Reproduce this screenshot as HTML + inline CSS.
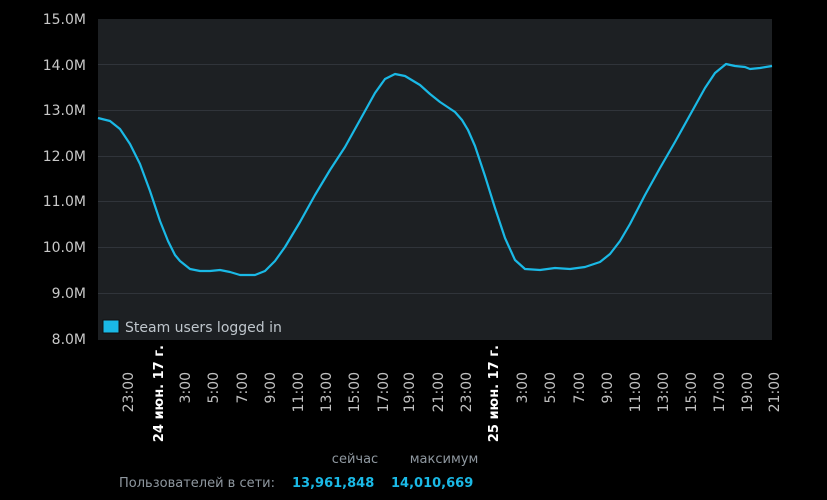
<!DOCTYPE html>
<html><head><meta charset="utf-8"><style>
body{margin:0;background:#000;width:827px;height:500px;overflow:hidden;font-family:"DejaVu Sans",sans-serif}
svg{position:absolute;left:0;top:0}
</style></head><body>
<svg width="827" height="500" xmlns="http://www.w3.org/2000/svg" font-family="DejaVu Sans, sans-serif">
<rect x="98" y="19" width="674" height="321" fill="#1d2023"/>
<g stroke="#30343a" stroke-width="1">
<line x1="98" x2="772" y1="64.5" y2="64.5"/><line x1="98" x2="772" y1="110.5" y2="110.5"/>
<line x1="98" x2="772" y1="156.5" y2="156.5"/><line x1="98" x2="772" y1="201.5" y2="201.5"/>
<line x1="98" x2="772" y1="247.5" y2="247.5"/><line x1="98" x2="772" y1="293.5" y2="293.5"/>
</g>
<g fill="#c8c8c8" font-size="14" text-anchor="end">
<text x="86" y="24">15.0M</text><text x="86" y="70">14.0M</text><text x="86" y="115">13.0M</text>
<text x="86" y="161">12.0M</text><text x="86" y="206">11.0M</text><text x="86" y="252">10.0M</text>
<text x="86" y="298">9.0M</text><text x="86" y="344">8.0M</text>
</g>
<path fill="none" stroke="#1ab9e6" stroke-width="2.2" stroke-linejoin="round" d="M98,118 L110,121 L120,129 L130,144 L140,164 L150,191 L160,221 L168,241 L175,255 L180,261 L190,269 L200,271 L210,271 L220,270 L230,272 L240,275 L255,275 L265,271 L275,261 L285,247 L300,222 L315,195 L330,170 L345,147 L360,120 L375,93 L385,79 L395,74 L405,76 L420,85 L430,94 L440,102 L455,112 L462,120 L468,130 L475,146 L485,176 L495,208 L505,238 L515,260 L525,269 L540,270 L555,268 L570,269 L585,267 L600,262 L610,254 L620,241 L630,224 L645,195 L660,168 L675,142 L690,115 L705,88 L715,73 L726,64 L735,66 L745,67 L750,69 L760,68 L772,66"/>
<rect x="103" y="320" width="16" height="13" fill="#1ab9e6" stroke="#111" stroke-width="1"/>
<text x="125" y="332" fill="#bfc6cc" font-size="14">Steam users logged in</text>
<g fill="#c0c0c0" font-size="14" text-anchor="end">
<text transform="translate(133,372) rotate(-90)">23:00</text>
<text transform="translate(190,372) rotate(-90)">3:00</text>
<text transform="translate(218,372) rotate(-90)">5:00</text>
<text transform="translate(247,372) rotate(-90)">7:00</text>
<text transform="translate(275,372) rotate(-90)">9:00</text>
<text transform="translate(303,372) rotate(-90)">11:00</text>
<text transform="translate(331,372) rotate(-90)">13:00</text>
<text transform="translate(359,372) rotate(-90)">15:00</text>
<text transform="translate(388,372) rotate(-90)">17:00</text>
<text transform="translate(414,372) rotate(-90)">19:00</text>
<text transform="translate(443,372) rotate(-90)">21:00</text>
<text transform="translate(471,372) rotate(-90)">23:00</text>
<text transform="translate(527,372) rotate(-90)">3:00</text>
<text transform="translate(555,372) rotate(-90)">5:00</text>
<text transform="translate(584,372) rotate(-90)">7:00</text>
<text transform="translate(612,372) rotate(-90)">9:00</text>
<text transform="translate(640,372) rotate(-90)">11:00</text>
<text transform="translate(668,372) rotate(-90)">13:00</text>
<text transform="translate(696,372) rotate(-90)">15:00</text>
<text transform="translate(724,372) rotate(-90)">17:00</text>
<text transform="translate(752,372) rotate(-90)">19:00</text>
<text transform="translate(779,372) rotate(-90)">21:00</text>
</g>
<g fill="#ffffff" font-size="13" font-weight="bold" text-anchor="end">
<text transform="translate(163,345) rotate(-90)">24 июн. 17 г.</text>
<text transform="translate(498,345) rotate(-90)">25 июн. 17 г.</text>
</g>
<text x="355" y="463" fill="#8f98a0" font-size="13" text-anchor="middle">сейчас</text>
<text x="444" y="463" fill="#8f98a0" font-size="13" text-anchor="middle">максимум</text>
<text x="119" y="487" fill="#8f98a0" font-size="13">Пользователей в сети:</text>
<text x="292" y="487" fill="#1ab9e6" font-size="13" font-weight="bold">13,961,848</text>
<text x="391" y="487" fill="#1ab9e6" font-size="13" font-weight="bold">14,010,669</text>
</svg>
</body></html>
